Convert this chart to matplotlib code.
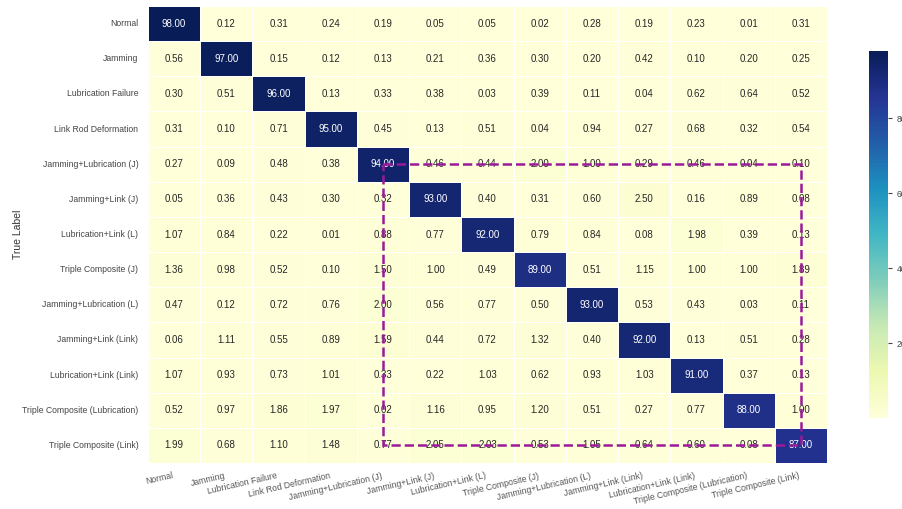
import matplotlib
matplotlib.use("Agg")
import matplotlib.pyplot as plt
import numpy as np
import seaborn as sns
from matplotlib.patches import Rectangle

# Class names (same order for true and predicted)
labels = [
    "Normal",
    "Jamming",
    "Lubrication Failure",
    "Link Rod Deformation",
    "Jamming+Lubrication (J)",
    "Jamming+Link (J)",
    "Lubrication+Link (L)",
    "Triple Composite (J)",
    "Jamming+Lubrication (L)",
    "Jamming+Link (Link)",
    "Lubrication+Link (Link)",
    "Triple Composite (Lubrication)",
    "Triple Composite (Link)",
]

# Confusion matrix rows (percent)
row_normal = [98.00, 0.12, 0.31, 0.24, 0.19, 0.05, 0.05, 0.02, 0.28, 0.19, 0.23, 0.01, 0.31]
row_jam = [0.56, 97.00, 0.15, 0.12, 0.13, 0.21, 0.36, 0.30, 0.20, 0.42, 0.10, 0.20, 0.25]
row_lub = [0.30, 0.51, 96.00, 0.13, 0.33, 0.38, 0.03, 0.39, 0.11, 0.04, 0.62, 0.64, 0.52]
row_link = [0.31, 0.10, 0.71, 95.00, 0.45, 0.13, 0.51, 0.04, 0.94, 0.27, 0.68, 0.32, 0.54]
row_jl_j = [0.27, 0.09, 0.48, 0.38, 94.00, 0.46, 0.44, 2.00, 1.00, 0.29, 0.46, 0.04, 0.10]
row_jk_j = [0.05, 0.36, 0.43, 0.30, 0.32, 93.00, 0.40, 0.31, 0.60, 2.50, 0.16, 0.89, 0.08]
row_lk_l = [1.07, 0.84, 0.22, 0.01, 0.88, 0.77, 92.00, 0.79, 0.84, 0.08, 1.98, 0.39, 0.13]
row_tri_j = [1.36, 0.98, 0.52, 0.10, 1.50, 1.00, 0.49, 89.00, 0.51, 1.15, 1.00, 1.00, 1.89]
row_jl_l = [0.47, 0.12, 0.72, 0.76, 2.00, 0.56, 0.77, 0.50, 93.00, 0.53, 0.43, 0.03, 0.11]
row_jk_link = [0.06, 1.11, 0.55, 0.89, 1.59, 0.44, 0.72, 1.32, 0.40, 92.00, 0.13, 0.51, 0.28]
row_lk_link = [1.07, 0.93, 0.73, 1.01, 0.33, 0.22, 1.03, 0.62, 0.93, 1.03, 91.00, 0.37, 0.13]
row_tri_lub = [0.52, 0.97, 1.86, 1.97, 0.02, 1.16, 0.95, 1.20, 0.51, 0.27, 0.77, 88.00, 1.00]
row_tri_link = [1.99, 0.68, 1.10, 1.48, 0.77, 2.05, 2.03, 0.53, 1.05, 0.64, 0.60, 0.08, 87.00]

# Block of compound faults that gets highlighted
highlight_start = 4
highlight_end = 12

cm = np.array([
    row_normal, row_jam, row_lub, row_link, row_jl_j, row_jk_j, row_lk_l,
    row_tri_j, row_jl_l, row_jk_link, row_lk_link, row_tri_lub, row_tri_link,
])

sns.set_style("white")
plt.rcParams["font.family"] = ["Liberation Sans", "DejaVu Sans"]

fig = plt.figure(figsize=(9.02, 5.09), dpi=100)
ax = fig.add_axes([148 / 902, 46 / 509, 679 / 902, 457 / 509])
cax = fig.add_axes([869 / 902, 91 / 509, 19 / 902, 367 / 509])

sns.heatmap(
    cm, ax=ax, cbar_ax=cax, cmap="YlGnBu",
    annot=True, fmt=".2f", annot_kws={"size": 7},
    linewidths=0.5, linecolor="white",
    xticklabels=labels, yticklabels=labels,
)

ax.set_xticklabels(labels, rotation=13, ha="right", fontsize=6.2, color="#555555")
ax.set_yticklabels(labels, rotation=0, fontsize=6.2, color="#444444")
ax.tick_params(axis="y", length=0, pad=7)
ax.tick_params(axis="x", length=0, pad=6)
ax.set_ylabel("True Label", fontsize=7.5, color="#333333")
ax.yaxis.set_label_coords(-0.184, 0.5)

# Dashed box joining the centres of the compound-fault diagonal
c0 = highlight_start + 0.5
c1 = highlight_end + 0.5
ax.add_patch(Rectangle((c0, c0), c1 - c0, c1 - c0, fill=False,
                       edgecolor="#9a1a9a", linestyle="--", linewidth=1.8,
                       zorder=5))

cax.tick_params(labelsize=6.2, colors="#444444", length=3)
cax.set_yticks([20, 40, 60, 80])
for sp in cax.spines.values():
    sp.set_visible(False)

fig.savefig("out.png", dpi=100)
